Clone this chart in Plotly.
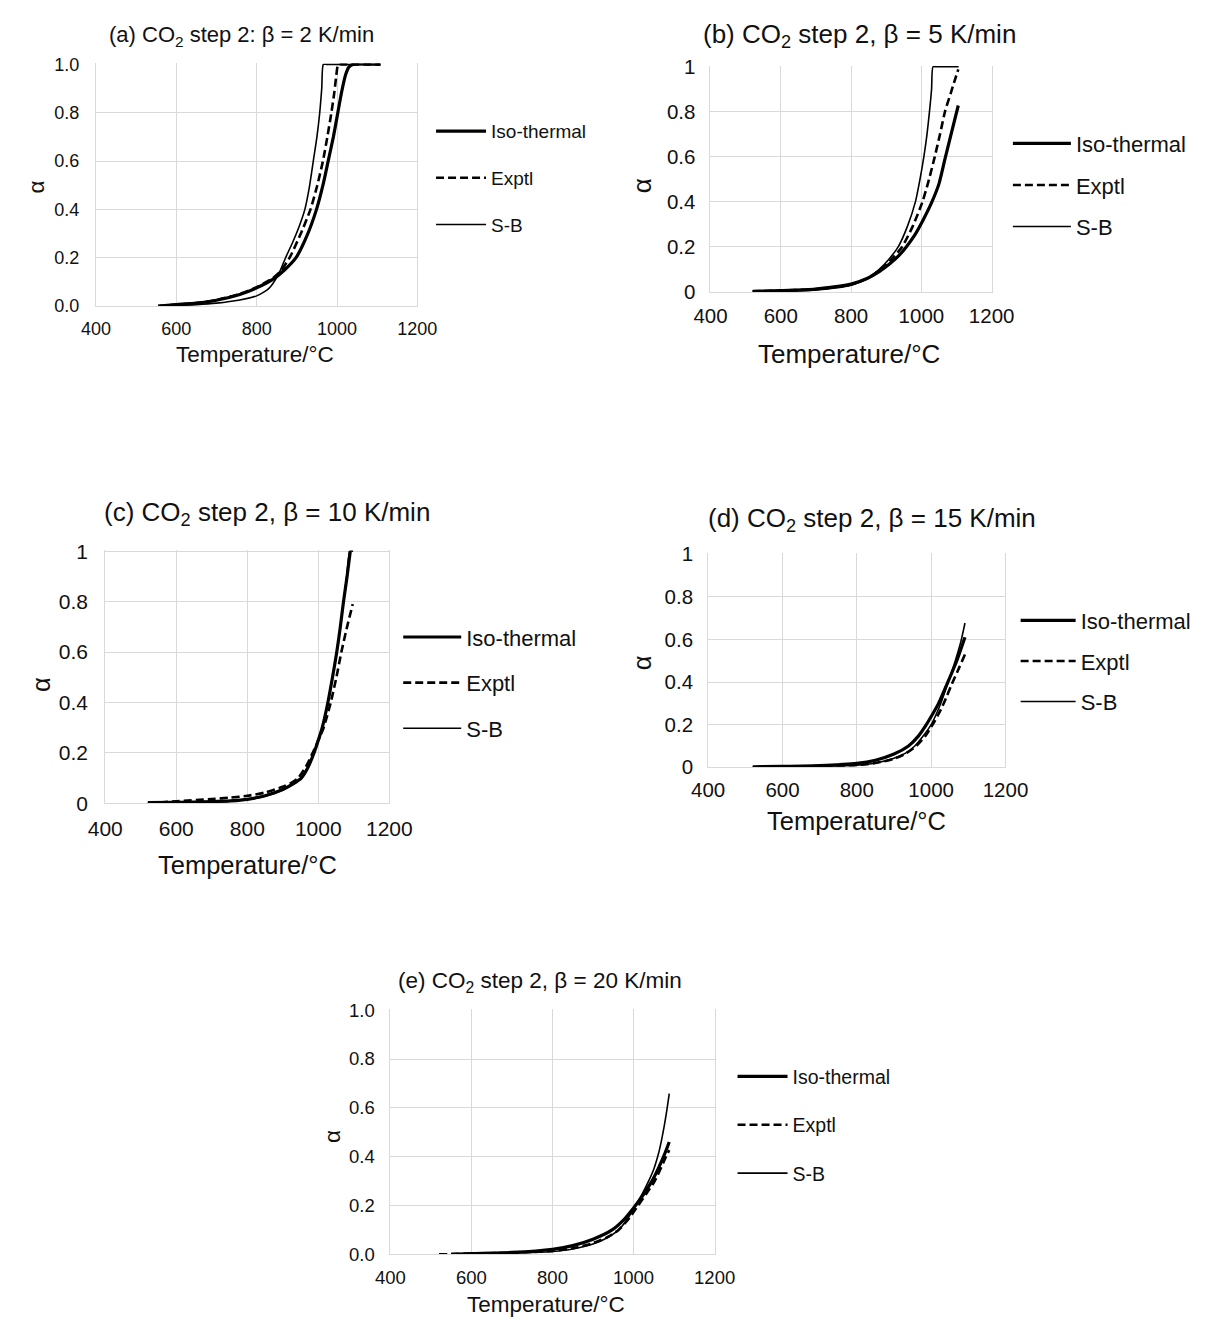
import plotly.graph_objects as go

W, H = 1214, 1329

# ---------------- data ----------------
series_names = ["Iso-thermal", "Exptl", "S-B"]

# (a) beta = 2 K/min
a_T_iso = [555, 600, 650, 700, 758, 800, 840, 870, 898, 925, 949, 965, 978, 991, 1002, 1012, 1022, 1030, 1040, 1108]
a_iso = [0.0, 0.006, 0.012, 0.024, 0.048, 0.075, 0.11, 0.15, 0.2, 0.29, 0.4, 0.5, 0.6, 0.7, 0.8, 0.89, 0.96, 0.99, 1.0, 1.0]
a_T_exp = [555, 600, 650, 700, 758, 800, 840, 860, 882, 910, 934, 951, 965, 976, 986, 993, 998, 1003, 1012, 1108]
a_exp = [0.0, 0.006, 0.012, 0.025, 0.05, 0.078, 0.115, 0.145, 0.2, 0.3, 0.4, 0.5, 0.6, 0.7, 0.8, 0.88, 0.95, 1.0, 1.0, 1.0]
a_T_sb = [555, 600, 650, 700, 758, 800, 830, 854, 872, 890, 906, 920, 931, 941, 950, 957, 962, 966, 975, 1108]
a_sb = [0.0, 0.003, 0.006, 0.012, 0.025, 0.042, 0.072, 0.13, 0.2, 0.265, 0.33, 0.4, 0.49, 0.6, 0.7, 0.8, 0.9, 1.0, 1.0, 1.0]

# (b) beta = 5 K/min
b_T_iso = [520, 600, 700, 800, 847, 880, 910, 935, 957, 980, 1005, 1030, 1050, 1067, 1086, 1105]
b_iso = [0.003, 0.006, 0.013, 0.035, 0.061, 0.09, 0.125, 0.16, 0.2, 0.25, 0.32, 0.4, 0.48, 0.59, 0.71, 0.828]
b_T_exp = [520, 600, 700, 800, 847, 880, 912, 945, 975, 1003, 1020, 1038, 1053, 1067, 1083, 1095, 1105]
b_exp = [0.003, 0.006, 0.013, 0.033, 0.061, 0.095, 0.14, 0.2, 0.29, 0.4, 0.49, 0.6, 0.7, 0.8, 0.88, 0.94, 0.988]
b_T_sb = [520, 600, 700, 800, 847, 880, 910, 934, 960, 983, 996, 1007, 1016, 1023, 1029, 1033, 1042, 1106]
b_sb = [0.002, 0.004, 0.009, 0.03, 0.061, 0.1, 0.15, 0.2, 0.29, 0.4, 0.5, 0.6, 0.7, 0.8, 0.9, 1.0, 1.0, 1.0]

# (c) beta = 10 K/min
c_T_iso = [520, 600, 700, 753, 800, 850, 900, 930, 952, 970, 988, 1000, 1011, 1027, 1040, 1052, 1062, 1071, 1081, 1090]
c_iso = [0.003, 0.004, 0.007, 0.01, 0.016, 0.03, 0.055, 0.078, 0.1, 0.14, 0.2, 0.25, 0.3, 0.4, 0.5, 0.6, 0.7, 0.8, 0.9, 1.0]
c_T_exp = [520, 600, 700, 753, 800, 850, 900, 925, 943, 965, 984, 1000, 1015, 1035, 1051, 1065, 1081, 1097]
c_exp = [0.0, 0.008, 0.017, 0.023, 0.03, 0.043, 0.066, 0.082, 0.1, 0.145, 0.2, 0.25, 0.3, 0.4, 0.5, 0.6, 0.7, 0.79]
c_T_sb = [520, 600, 700, 753, 800, 850, 900, 930, 952, 970, 988, 1000, 1011, 1027, 1040, 1052, 1062, 1071, 1080, 1089, 1098]
c_sb = [0.002, 0.003, 0.006, 0.009, 0.015, 0.028, 0.053, 0.077, 0.1, 0.14, 0.2, 0.25, 0.3, 0.4, 0.5, 0.6, 0.7, 0.8, 0.9, 1.0, 1.0]

# (d) beta = 15 K/min
d_T_iso = [520, 600, 700, 800, 850, 900, 939, 965, 987, 1004, 1020, 1045, 1069, 1091]
d_iso = [0.002, 0.004, 0.008, 0.018, 0.033, 0.062, 0.1, 0.145, 0.2, 0.25, 0.3, 0.4, 0.5, 0.61]
d_T_exp = [520, 600, 700, 800, 850, 900, 930, 960, 985, 1004, 1020, 1034, 1058, 1076, 1091]
d_exp = [0.0, 0.003, 0.006, 0.011, 0.02, 0.04, 0.063, 0.1, 0.148, 0.2, 0.25, 0.3, 0.4, 0.47, 0.53]
d_T_sb = [520, 600, 700, 800, 850, 900, 930, 956, 980, 1000, 1014, 1026, 1046, 1065, 1080, 1091]
d_sb = [0.001, 0.002, 0.005, 0.01, 0.02, 0.042, 0.065, 0.1, 0.15, 0.2, 0.25, 0.3, 0.4, 0.5, 0.59, 0.677]

# (e) beta = 20 K/min
e_T_iso = [550, 600, 700, 800, 850, 900, 947, 975, 1000, 1020, 1047, 1074, 1088]
e_iso = [0.0, 0.003, 0.008, 0.021, 0.036, 0.062, 0.1, 0.14, 0.19, 0.235, 0.305, 0.4, 0.46]
e_T_exp = [520, 600, 700, 800, 850, 900, 935, 963, 990, 1011, 1030, 1052, 1080, 1088]
e_exp = [0.0, 0.003, 0.007, 0.014, 0.025, 0.046, 0.07, 0.1, 0.15, 0.2, 0.245, 0.3, 0.4, 0.427]
e_T_sb = [550, 600, 700, 800, 850, 900, 935, 963, 987, 1005, 1022, 1037, 1050, 1061, 1068, 1075, 1082, 1088]
e_sb = [0.0, 0.002, 0.005, 0.012, 0.022, 0.042, 0.068, 0.1, 0.15, 0.2, 0.25, 0.3, 0.35, 0.41, 0.46, 0.52, 0.59, 0.658]

panel_titles = [
    "(a) CO<sub>2</sub> step 2: β = 2 K/min",
    "(b) CO<sub>2</sub> step 2, β = 5 K/min",
    "(c) CO<sub>2</sub> step 2, β = 10 K/min",
    "(d) CO<sub>2</sub> step 2, β = 15 K/min",
    "(e) CO<sub>2</sub> step 2, β = 20 K/min",
]
x_title = "Temperature/°C"
y_title = "α"
x_ticks = [400, 600, 800, 1000, 1200]
y_ticks = [0, 0.2, 0.4, 0.6, 0.8, 1.0]

# ---------------- layout geometry (pixels) ----------------
FONT = "Liberation Sans, Arial, sans-serif"
INK = "#111111"
GRID = "#d9d9d9"
YTOP = 1.004  # tiny headroom so curves lying on alpha = 1 stay visible

panels = [
    dict(key="a", data=[(a_T_iso, a_iso), (a_T_exp, a_exp), (a_T_sb, a_sb)],
         box=(80.7, 413.3, 54.3, 300.0), yfmt=".1f",
         title_xy=(231, 25), title_fs=22,
         xt_xy=(245, 349), yt_xy=(19, 179), axt_fs=22.5, tick_fs=18,
         leg_x=427.5, leg_y=170, leg_fs=19, leg_gap=48, leg_w=50, xstand=6, ystand=12),
    dict(key="b", data=[(b_T_iso, b_iso), (b_T_exp, b_exp), (b_T_sb, b_sb)],
         box=(716.7, 1007.7, 56.7, 285.7), yfmt="",
         title_xy=(871, 25), title_fs=26,
         xt_xy=(860, 349), yt_xy=(646, 178), axt_fs=26, tick_fs=20.5,
         leg_x=1024.5, leg_y=177, leg_fs=22, leg_gap=43, leg_w=58, xstand=5, ystand=10),
    dict(key="c", data=[(c_T_iso, c_iso), (c_T_exp, c_exp), (c_T_sb, c_sb)],
         box=(90.3, 384.3, 549.3, 805.7), yfmt="",
         title_xy=(258, 511), title_fs=26,
         xt_xy=(238, 868), yt_xy=(23, 685), axt_fs=25.5, tick_fs=21,
         leg_x=393.5, leg_y=683, leg_fs=22, leg_gap=47, leg_w=58, xstand=6, ystand=12),
    dict(key="d", data=[(d_T_iso, d_iso), (d_T_exp, d_exp), (d_T_sb, d_sb)],
         box=(714.3, 1022.0, 552.3, 769.0), yfmt="",
         title_xy=(884, 517), title_fs=26,
         xt_xy=(868, 824), yt_xy=(646, 663), axt_fs=25.5, tick_fs=20.5,
         leg_x=1032.5, leg_y=661, leg_fs=22, leg_gap=42, leg_w=55, xstand=4, ystand=10),
    dict(key="e", data=[(e_T_iso, e_iso), (e_T_exp, e_exp), (e_T_sb, e_sb)],
         box=(385.4, 721.0, 1016.0, 1264.3), yfmt=".1f",
         title_xy=(540, 987), title_fs=22.5,
         xt_xy=(546, 1315), yt_xy=(325, 1145), axt_fs=22.5, tick_fs=18.5,
         leg_x=739.5, leg_y=1133, leg_fs=19.5, leg_gap=49, leg_w=50, xstand=6, ystand=11),
]

styles = [
    dict(width=3.2, dash="solid"),
    dict(width=2.6, dash="8px,4px"),
    dict(width=1.6, dash="solid"),
]

fig = go.Figure()
annotations = []
layout = {}

for i, p in enumerate(panels):
    n = i + 1
    xa = "x" if n == 1 else f"x{n}"
    ya = "y" if n == 1 else f"y{n}"
    lg = "legend" if n == 1 else f"legend{n}"
    for (T, al), name, st in zip(p["data"], series_names, styles):
        fig.add_trace(go.Scatter(
            x=T, y=al, mode="lines", name=name,
            line=dict(color="black", width=st["width"], dash=st["dash"],
                      shape="spline", smoothing=0.6),
            xaxis=xa, yaxis=ya, legend=lg,
            legendgroup=f"{p['key']}_{name}", hoverinfo="skip",
        ))
    l, r, t, b = p["box"]
    t_dom = t - (YTOP - 1.0) * (b - t)
    tick_font = dict(family=FONT, size=p["tick_fs"], color=INK)
    layout["xaxis" if n == 1 else f"xaxis{n}"] = dict(
        domain=[l / W, r / W], anchor=ya, range=[400, 1200],
        showgrid=True, gridcolor=GRID, gridwidth=1,
        showline=True, linecolor=GRID, linewidth=1, mirror=False,
        zeroline=False, ticks="", fixedrange=True, tickfont=tick_font,
        tickmode="array", tickvals=x_ticks, ticklabelstandoff=p["xstand"])
    if p["yfmt"]:
        ytxt = [format(v, p["yfmt"]) for v in y_ticks]
    else:
        ytxt = [f"{v:g}" for v in y_ticks]
    layout["yaxis" if n == 1 else f"yaxis{n}"] = dict(
        domain=[1 - b / H, 1 - t_dom / H], anchor=xa, range=[0, YTOP],
        showgrid=True, gridcolor=GRID, gridwidth=1,
        showline=True, linecolor=GRID, linewidth=1, mirror=True,
        zeroline=False, ticks="", fixedrange=True, tickfont=tick_font,
        tickmode="array", tickvals=y_ticks, ticktext=ytxt,
        ticklabelstandoff=p["ystand"])
    fs = p["leg_fs"]
    layout[lg] = dict(
        x=p["leg_x"] / W, y=1 - p["leg_y"] / H, xanchor="left", yanchor="middle",
        xref="paper", yref="paper", bgcolor="rgba(0,0,0,0)", borderwidth=0,
        font=dict(family=FONT, size=fs, color=INK),
        tracegroupgap=max(p["leg_gap"] - round(fs * 1.3) - 4, 0),
        itemwidth=p["leg_w"], traceorder="grouped",
    )
    tx, ty = p["title_xy"]
    annotations.append(dict(text=panel_titles[i], x=tx / W, y=1 - ty / H,
                            xref="paper", yref="paper", showarrow=False,
                            xanchor="center", yanchor="middle",
                            font=dict(family=FONT, size=p["title_fs"], color=INK)))
    xx, xy = p["xt_xy"]
    annotations.append(dict(text=x_title, x=xx / W, y=1 - xy / H,
                            xref="paper", yref="paper", showarrow=False,
                            xanchor="center", yanchor="middle",
                            font=dict(family=FONT, size=p["axt_fs"], color=INK)))
    yx, yy = p["yt_xy"]
    annotations.append(dict(text=y_title, x=yx / W, y=1 - yy / H,
                            xref="paper", yref="paper", showarrow=False,
                            xanchor="center", yanchor="middle", textangle=-90,
                            font=dict(family=FONT, size=p["axt_fs"], color=INK)))

fig.update_layout(
    width=W, height=H, margin=dict(l=0, r=0, t=0, b=0),
    paper_bgcolor="white", plot_bgcolor="white",
    annotations=annotations, **layout,
)

fig.write_html("out.html", include_plotlyjs=True, config={"displayModeBar": False})
